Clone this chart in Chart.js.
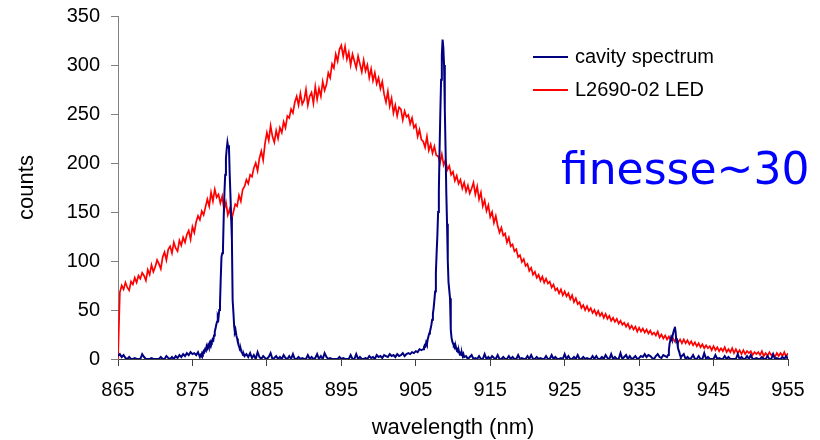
<!DOCTYPE html>
<html><head><meta charset="utf-8">
<script src="https://cdn.jsdelivr.net/npm/chart.js@4/dist/chart.umd.min.js"></script>
<style>html,body{margin:0;padding:0;background:#fff}#wrap{width:820px;height:440px;position:relative}</style>
</head><body><div id="wrap"><canvas id="c"></canvas></div>
<script>
// ---- data ----
const xTicks = [865, 875, 885, 895, 905, 915, 925, 935, 945, 955];
const yTicks = [0, 50, 100, 150, 200, 250, 300, 350];
const seriesNames = ['cavity spectrum', 'L2690-02 LED'];
const annotationText = 'finesse~30';

// sampling grid of the coarse series (nm)
const gridStart = 865, gridStep = 0.25;

// L2690-02 LED counts, 865.00 .. 955.00 every 0.25 nm
const ledCounts = [
  0, 68, 75, 71,      78, 73, 70, 79,      76, 83, 78, 85,      82, 88, 85, 80,      91, 86, 96, 89,   // 865-869
  94, 101, 97, 92,    104, 109, 101, 112,  115, 108, 119, 113,  110, 121, 116, 124,  119, 127, 131, 122, // 870-874
  135, 129, 140, 146, 142, 151, 147, 155,  163, 156, 170, 161,  173, 165, 168, 159,  166, 152, 160, 147, // 875-879
  153, 142, 150, 158, 156, 167, 161, 173,  176, 183, 179, 188,  186, 195, 200, 192,  205, 212, 203, 220, // 880-884
  231, 223, 238, 227, 221, 233, 225, 236,  231, 242, 236, 248,  246, 255, 251, 262,  268, 259, 271, 260, // 885-889
  264, 275, 259, 268, 272, 261, 278, 265,  276, 268, 283, 274,  280, 292, 287, 301,  297, 311, 304, 316, // 890-894
  320, 309, 319, 306, 313, 300, 311, 304,  297, 309, 301, 293,  305, 294, 300, 287,  296, 284, 292, 281, // 895-899
  287, 276, 283, 270, 262, 273, 258, 266,  251, 259, 248, 257,  255, 244, 253, 247,  249, 240, 246, 236, // 900-904
  239, 227, 234, 224, 222, 216, 227, 213,  219, 210, 217, 208,  207, 200, 209, 198,  203, 193, 197, 188, // 905-909
  191, 182, 187, 179, 183, 174, 180, 171,  177, 169, 174, 180,  168, 176, 163, 170,  156, 162, 151, 157, // 910-914
  145, 150, 139, 146, 136, 129, 134, 126,  128, 119, 124, 115,  117, 110, 112, 104,  106, 99, 102, 95,  // 915-919
  97, 90, 93, 86,     89, 83, 86, 80,      84, 78, 82, 77,      79, 73, 76, 70,      72, 67, 71, 65,    // 920-924
  69, 64, 67, 61,     65, 58, 62, 56,      58, 52, 55, 50,      54, 49, 52, 47,      50, 45, 49, 44,    // 925-929
  47, 42, 46, 41,     44, 39, 42, 38,      41, 36, 39, 35,      37, 33, 36, 31,      34, 30, 33, 28,    // 930-934
  32, 28, 31, 27,     30, 26, 29, 25,      27, 24, 28, 22,      25, 21, 24, 20,      23, 19, 22, 18,    // 935-939
  21, 17, 20, 16,     20, 16, 19, 15,      18, 14, 17, 13,      16, 12, 15, 11,      14, 11, 13, 9,     // 940-944
  13, 9, 12, 8,       11, 8, 12, 7,        10, 7, 11, 6,        10, 6, 9, 5,         9, 5, 8, 6,        // 945-949
  8, 4, 7, 5,         7, 4, 8, 3,          6, 3, 7, 4,          5, 2, 6, 3,          6, 3, 7, 2,        // 950-954
  6                                                                                                     // 955
];

// cavity spectrum baseline, 865.00 .. 955.00 every 0.25 nm (peak regions replaced by finer readings below)
const cavityBase = [
  3, 5, 2, 4,   1, 0, 2, 0,   0, 1, 0, 0,   0, 5, 2, 0,   0, 0, 1, 0,     // 865-869
  0, 0, 0, 2,   0, 0, 3, 1,   0, 2, 0, 3,   1, 4, 2, 5,   3, 6, 4, 7,     // 870-874
  5, 6, 4, 7,   2, 6, 8, 12,  12, 16, 18, 20, 28, 42, 56, 108, 112, 188, 214, 218, // 875-879
  190, 122, 34, 29, 21, 12, 10, 6, 3, 5, 2, 6, 1, 4, 0, 7, 2, 0, 3, 1,  // 880-884
  0, 2, 6, 0,   1, 3, 0, 2,   0, 4, 1, 0,   3, 0, 5, 0,   0, 2, 0, 1,     // 885-889
  0, 0, 4, 0,   2, 0, 1, 5,   0, 3, 0, 6,   2, 0, 1, 0,   0, 0, 0, 2,     // 890-894
  0, 1, 0, 0,   0, 4, 0, 0,   5, 0, 2, 0,   0, 1, 0, 3,   1, 2, 0, 4,     // 895-899
  2, 3, 1, 4,   3, 2, 5, 3,   4, 2, 5, 3,   4, 6, 3, 5,   6, 5, 7, 6,     // 900-904
  8, 7, 10, 9,  10, 15, 23, 28, 31, 52, 88, 126, 150, 252, 326, 300, 215, 100, 62, 18, // 905-909
  16, 15, 12, 9, 6, 4, 5, 3,  0, 2, 4, 0,   1, 0, 3, 0,   0, 5, 0, 2,     // 910-914
  0, 3, 1, 0,   4, 0, 0, 2,   0, 0, 3, 0,   2, 0, 0, 4,   0, 1, 0, 0,     // 915-919
  3, 0, 4, 0,   0, 2, 0, 1,   0, 0, 3, 0,   0, 4, 0, 2,   0, 0, 1, 0,     // 920-924
  5, 0, 3, 0,   0, 2, 0, 4,   0, 0, 2, 0,   1, 0, 0, 3,   0, 3, 0, 0,     // 925-929
  2, 0, 4, 1,   0, 5, 0, 2,   0, 0, 6, 0,   2, 4, 0, 3,   0, 1, 3, 0,     // 930-934
  1, 3, 2, 5,   2, 4, 3, 1,   0, 3, 5, 2,   1, 4, 3, 2,   9, 24, 33, 18,  // 935-939
  12, 4, 2, 3,  5, 0, 2, 0,   1, 4, 0, 0,   3, 0, 0, 6,   0, 2, 0, 0,     // 940-944
  0, 4, 0, 1,   0, 0, 3, 0,   2, 0, 0, 0,   0, 5, 0, 2,   0, 0, 3, 0,     // 945-949
  4, 0, 0, 1,   0, 0, 2, 0,   0, 3, 0, 0,   5, 0, 1, 0,   0, 2, 0, 3,     // 950-954
  0                                                                       // 955
];

// finer readings of the cavity resonances, every 0.1 nm
const fineStep = 0.1;
const peak1Start = 876.0;
const peak1 = [2, 4, 3, 6, 5, 8, 7, 10, 9, 13, 11, 14, 12, 16, 14, 18, 17, 20, 19, 24,
  28, 31, 35, 38, 44, 42, 50, 56, 82, 104, 108, 112, 145, 170, 188, 205, 214, 221, 216, 218,
  190, 168, 145, 122, 60, 48, 34, 27, 29, 24, 21, 17, 14, 12, 9, 10, 7, 6, 4, 5, 3];
const peak2Start = 906.0;
const peak2 = [10, 12, 14, 13, 17, 15, 20, 23, 26, 28, 31, 35, 40, 46, 52, 60, 69, 88, 108, 126,
  150, 172, 215, 252, 285, 310, 326, 318, 300, 255, 215, 170, 138, 100, 78, 70, 62, 30, 22, 18,
  16, 14, 15, 11, 12, 9, 10, 7, 8, 5, 6, 4, 6, 3, 5, 2];
const peak3Start = 938.8;
const peak3 = [2, 4, 9, 16, 19, 22, 20, 24, 27, 30, 33, 28, 18, 19, 12, 9, 7, 4, 2];

// ---- build point lists ----
const r2 = v => Math.round(v * 1000) / 1000;
const ledPoints = ledCounts.map((v, i) => ({x: r2(gridStart + i * gridStep), y: v}));
function finePts(start, arr) { return arr.map((v, i) => ({x: r2(start + i * fineStep), y: v})); }
const fines = [[peak1Start, peak1], [peak2Start, peak2], [peak3Start, peak3]];
const ranges = fines.map(([s, a]) => [s, r2(s + (a.length - 1) * fineStep)]);
let cavityPoints = cavityBase.map((v, i) => ({x: r2(gridStart + i * gridStep), y: v}))
  .filter(p => !ranges.some(([a, b]) => p.x >= a && p.x <= b));
fines.forEach(([s, a]) => { cavityPoints = cavityPoints.concat(finePts(s, a)); });
cavityPoints.sort((a, b) => a.x - b.x);

const FONT = "'Liberation Sans', Arial, sans-serif";
const BLUE = '#000080', RED = '#ff0000';

const overlay = {
  id: 'overlay',
  afterDraw(chart) {
    const ctx = chart.ctx;
    ctx.save();
    const ds = chart.data.datasets;
    const rows = [57, 90];
    ds.forEach((d, i) => {
      ctx.strokeStyle = d.borderColor; ctx.lineWidth = 2;
      ctx.beginPath(); ctx.moveTo(533, rows[i]); ctx.lineTo(568, rows[i]); ctx.stroke();
      ctx.fillStyle = '#000'; ctx.font = '20px ' + FONT;
      ctx.textAlign = 'left'; ctx.textBaseline = 'middle';
      ctx.fillText(d.label, 575, rows[i]);
    });
    ctx.fillStyle = '#0000ff';
    ctx.font = "44px 'DejaVu Sans', sans-serif";
    ctx.textBaseline = 'alphabetic';
    ctx.fillText(annotationText, 561, 184);
    ctx.restore();
  }
};

new Chart(document.getElementById('c'), {
  type: 'line',
  data: {
    datasets: [
      {label: seriesNames[0], data: cavityPoints, borderColor: BLUE, borderWidth: 2, pointRadius: 0, tension: 0},
      {label: seriesNames[1], data: ledPoints, borderColor: RED, borderWidth: 1.7, pointRadius: 0, tension: 0}
    ]
  },
  options: {
    responsive: true, maintainAspectRatio: false, animation: false,
    layout: {padding: {left: 0, right: 32, top: 16, bottom: 0}},
    plugins: {legend: {display: false}, tooltip: {enabled: false}},
    scales: {
      x: {
        type: 'linear', min: 865, max: 955,
        afterBuildTicks: s => { s.ticks = xTicks.map(v => ({value: v})); },
        afterFit: s => { s.height = 81; s.paddingLeft = 0; s.paddingRight = 0; },
        border: {display: true, color: '#404040', width: 1},
        grid: {drawOnChartArea: false, drawTicks: true, tickLength: 7, tickColor: '#404040'},
        ticks: {font: {family: FONT, size: 20}, color: '#000', padding: 12, maxRotation: 0, autoSkip: false},
        title: {display: true, text: 'wavelength (nm)', color: '#000', font: {family: FONT, size: 22, lineHeight: 1}, padding: {top: 0, bottom: 1}}
      },
      y: {
        min: 0, max: 350,
        afterBuildTicks: s => { s.ticks = yTicks.map(v => ({value: v})); },
        afterFit: s => { s.width = 118; s.paddingTop = 0; s.paddingBottom = 0; },
        border: {display: true, color: '#808080', width: 1},
        grid: {drawOnChartArea: false, drawTicks: true, tickLength: 7, tickColor: '#808080'},
        ticks: {font: {family: FONT, size: 20}, color: '#000', padding: 11},
        title: {display: true, text: 'counts', color: '#000', font: {family: FONT, size: 22}, padding: {top: 14, bottom: 0}}
      }
    }
  },
  plugins: [overlay]
});
</script></body></html>
